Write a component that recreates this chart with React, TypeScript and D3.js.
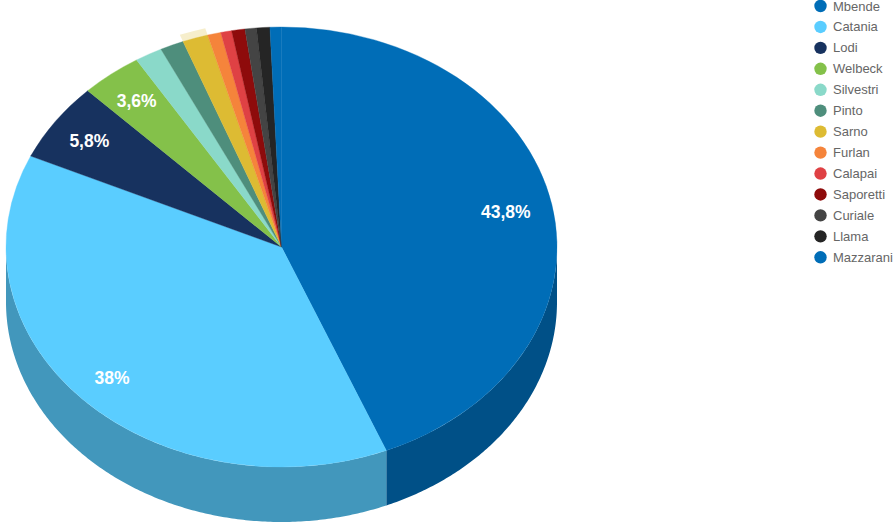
import * as d3 from 'd3';

const categories = ['Mbende', 'Catania', 'Lodi', 'Welbeck', 'Silvestri', 'Pinto', 'Sarno', 'Furlan', 'Calapai', 'Saporetti', 'Curiale', 'Llama', 'Mazzarani'];
const values = [43.8, 38, 5.8, 3.6, 1.61, 1.39, 1.5, 0.78, 0.64, 0.78, 0.67, 0.78, 0.67];
const colors = ['#006db7', '#5acdff', '#17325f', '#84c14a', '#8ad9c9', '#4e8e7c', '#ddbb33', '#f5843b', '#df4144', '#8e0b0b', '#444444', '#252525', '#006db7'];
const shownLabels = ['43,8%', '38%', '5,8%', '3,6%'];
const hoveredIndex = 6;

const width = 896;
const height = 527;
const cx = 281.5;
const cy = 247;
const rx = 275.5;
const ry = 220;
const depth = 55;
const labelRadius = [0.83, 0.855, 0.85, 0.85];

interface Slice {
    category: string;
    value: number;
    color: string;
}

const slices: Slice[] = categories.map((category, i) => ({ category, value: values[i], color: colors[i] }));

const pie = d3.pie<Slice>().value(d => d.value).sort(null);
const arc = d3.arc<d3.PieArcDatum<Slice>>().innerRadius(0).outerRadius(rx);
const haloArc = d3.arc<d3.PieArcDatum<Slice>>().innerRadius(rx).outerRadius(rx + 9);

const wall = d3.area<number>()
    .x(a => cx + rx * Math.sin(a))
    .y0(a => cy - ry * Math.cos(a))
    .y1(a => cy - ry * Math.cos(a) + depth);

// only the front half of the rim can be seen
function wallPath(d: d3.PieArcDatum<Slice>) {
    const start = Math.max(d.startAngle, Math.PI / 2);
    const end = Math.min(d.endAngle, (3 * Math.PI) / 2);
    if (end <= start) return null;
    return wall(d3.range(start, end, 0.01).concat(end));
}

export default function App() {
    const arcs = pie(slices);
    const squash = ry / rx;

    return (
        <svg width={width} height={height} style={{ position: 'absolute', left: 0, top: 0, background: '#fff', fontFamily: '"Liberation Sans", Arial, sans-serif' }}>
            {arcs.map((d, i) => {
                const p = wallPath(d);
                return p ? <path key={i} d={p} fill={d3.color(d.data.color)!.darker(0.85).formatHex()} /> : null;
            })}
            <g transform={`translate(${cx},${cy}) scale(1,${squash})`}>
                <path d={haloArc(arcs[hoveredIndex]) ?? ''} fill={colors[hoveredIndex]} fillOpacity={0.25} />
                {arcs.map((d, i) => (
                    // thin stroke in the slice colour hides the seam between Mazzarani and Mbende
                    <path key={i} d={arc(d) ?? ''} fill={d.data.color} stroke={d.data.color} strokeWidth={0.4} />
                ))}
            </g>
            {shownLabels.map((label, i) => {
                const mid = (arcs[i].startAngle + arcs[i].endAngle) / 2;
                const r = labelRadius[i];
                return (
                    <text key={label} x={cx + rx * r * Math.sin(mid)} y={cy + 0.5 - ry * r * Math.cos(mid)} textAnchor="middle" dominantBaseline="central" fontSize={17.5} fontWeight="bold" fill="#fff">
                        {label}
                    </text>
                );
            })}
            {categories.map((c, i) => (
                <g key={c} transform={`translate(820.5,${6 + i * 20.94})`}>
                    <circle r={6.2} fill={colors[i]} />
                    <text x={12.5} y={0} dominantBaseline="central" fontSize={13} fill="#666">{c}</text>
                </g>
            ))}
        </svg>
    );
}
